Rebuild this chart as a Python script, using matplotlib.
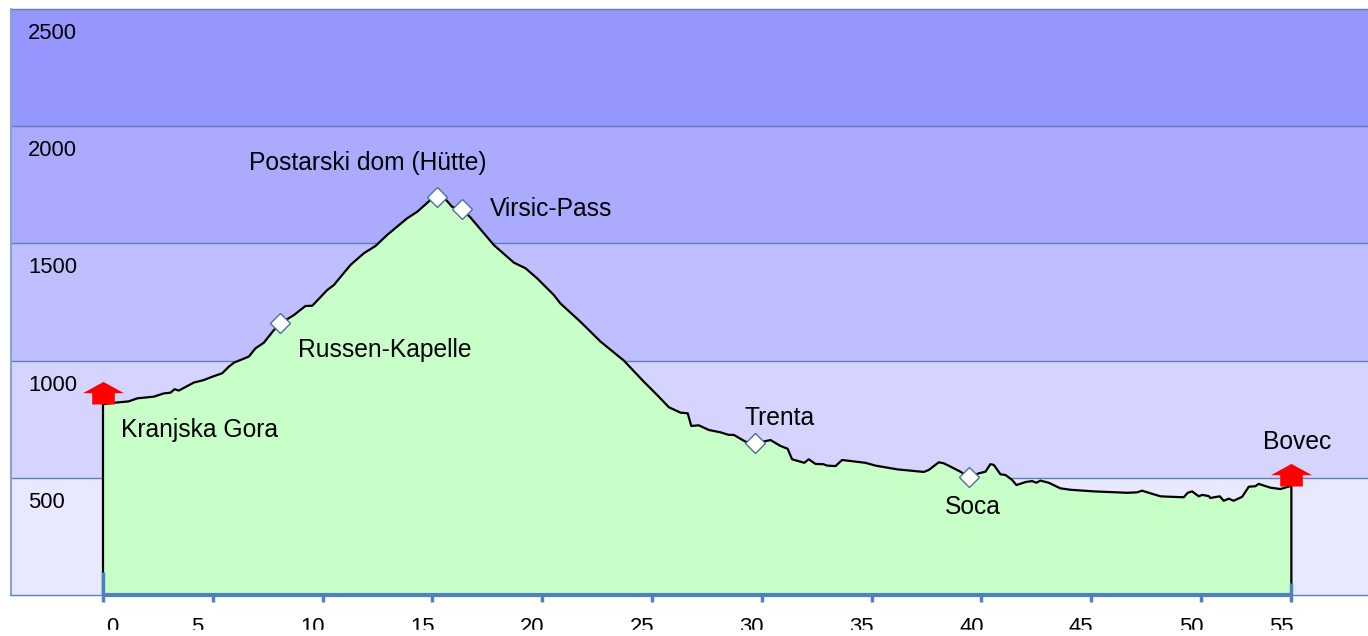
import matplotlib
matplotlib.use("Agg")
import matplotlib.pyplot as plt
from matplotlib.patches import Rectangle
from matplotlib.path import Path
from matplotlib.transforms import ScaledTranslation

plt.rcParams["font.family"] = ["Liberation Sans", "DejaVu Sans"]

# route profile: distance in km, altitude in m
km = [0, 0.49, 1.17, 1.56, 2.31, 2.77, 3.07, 3.26, 3.45, 4.13, 4.59, 4.97, 5.43, 5.73, 5.96,
      6.64, 6.94, 7.32, 7.78, 8.08, 8.69, 9.22, 9.53, 10.21, 10.51, 11.27, 11.88, 12.41, 12.94,
      13.85, 14.31, 14.91, 15.22, 15.60, 15.90, 16.36, 16.73, 17.80, 18.71, 19.24, 19.77, 20.53,
      20.83, 21.74, 22.66, 23.72, 24.63, 25.24, 25.77, 26.30, 26.63, 26.79, 27.13, 27.59, 28.12,
      28.50, 28.73, 29.26, 29.71, 30.40, 30.85, 31.18, 31.38, 31.94, 32.14, 32.45, 32.80, 32.98,
      33.36, 33.66, 34.72, 35.18, 36.17, 37.38, 37.60, 38.06, 38.29, 39.05, 39.43, 39.88, 40.19,
      40.41, 40.57, 40.87, 41.10, 41.40, 41.60, 42.01, 42.31, 42.51, 42.69, 43.07, 43.60, 44.06,
      45.12, 46.18, 46.64, 47.10, 47.32, 47.70, 48.16, 48.61, 49.22, 49.40, 49.60, 49.90, 50.06,
      50.36, 50.43, 50.86, 51.04, 51.27, 51.49, 51.88, 52.18, 52.48, 52.63, 53.16, 53.62, 54.12]
alt = [814, 820, 826, 839, 846, 860, 863, 878, 872, 906, 917, 931, 946, 974, 991,
       1017, 1052, 1076, 1130, 1159, 1194, 1233, 1234, 1301, 1322, 1408, 1458, 1489, 1536,
       1607, 1635, 1685, 1699, 1688, 1656, 1645, 1611, 1493, 1418, 1394, 1351, 1280,
       1244, 1166, 1081, 1000, 910, 853, 801, 778, 775, 721, 724, 704, 694,
       683, 683, 654, 647, 661, 636, 624, 579, 564, 579, 559, 558, 552,
       550, 576, 564, 552, 536, 525, 533, 566, 562, 526, 502, 519, 526,
       558, 555, 515, 512, 491, 469, 482, 486, 479, 488, 479, 455, 449,
       442, 438, 436, 438, 445, 434, 421, 419, 417, 436, 442, 421, 427,
       422, 414, 421, 402, 411, 402, 419, 462, 464, 474, 458, 452, 466]

band_edges = [0, 500, 1000, 1500, 2000, 2500]
band_colors = ["#e8e8ff", "#d4d4ff", "#bfbfff", "#aaaaff", "#9696ff"]

stop_km = [8.08, 15.22, 16.36, 29.71, 39.43]
stop_alt = [1159, 1699, 1645, 647, 502]
end_km = [0, 54.12]
end_alt = [814, 466]

label_names = ["Kranjska Gora", "Russen-Kapelle", "Postarski dom (Hütte)", "Virsic-Pass",
               "Trenta", "Soca", "Bovec"]
label_km = [0.8, 8.87, 6.63, 17.6, 29.22, 38.32, 52.85]
label_alt = [704, 1046, 1843, 1647, 756, 376, 653]

tick_km = [0, 5, 10, 15, 20, 25, 30, 35, 40, 45, 50, 54.12]
tick_labels = ["0", "5", "10", "15", "20", "25", "30", "35", "40", "45", "50", "55"]
tick_shift = [9, -16, -10, -10, -10, -10, -10, -10, -10, -10, -10, -10]
y_ticks = [500, 1000, 1500, 2000, 2500]

AXIS = "#4f81bd"
GRID = "#5f7fb5"

fig = plt.figure(figsize=(13.68, 6.36), dpi=100)
ax = fig.add_axes([11 / 1368, 41 / 636, 1357 / 1368, 586 / 636])
ax.set_xlim(-4.19, 57.61)
ax.set_ylim(0, 2500)

for i, c in enumerate(band_colors):
    ax.axhspan(band_edges[i], band_edges[i + 1], color=c, lw=0, zorder=0)
for y in band_edges[1:]:
    ax.axhline(y, color=GRID, lw=1, zorder=1, clip_on=False)

# profile, closed down to the axis at both ends
line_x = [km[0]] + km + [km[-1]]
line_y = [0] + alt + [0]
ax.fill_between(line_x, line_y, 0, color="#c8ffc8", lw=0, zorder=2)
ax.plot(line_x, line_y, color="black", lw=1.6, zorder=3)

# thick axis over the route and stubs at both ends
ax.plot(end_km, [0, 0], color=AXIS, lw=3, zorder=4, clip_on=False, solid_capstyle="butt")
ax.vlines(end_km[0], 0, 100, color=AXIS, lw=2.5, zorder=4)
ax.vlines(end_km[1], 0, 50, color=AXIS, lw=2.5, zorder=4)

ax.plot(stop_km, stop_alt, ls="none", marker="D", ms=10.5, mfc="white", mec="#4f6f9f", mew=1, zorder=5)

arrow = Path([(-11, 0), (-11, 11), (-20, 11), (0, 22), (20, 11), (11, 11), (11, 0), (-11, 0)], closed=True)
ax.plot(end_km, end_alt, ls="none", marker=arrow, ms=32.5, mfc="#ff0000", mec="none", zorder=5)

for name, x, y in zip(label_names, label_km, label_alt):
    ax.text(x, y, name, fontsize=17.7, color="black", ha="left", va="center", zorder=6)

for s in ["top", "right"]:
    ax.spines[s].set_visible(False)
ax.spines["left"].set_color("#8aa3c8")
ax.spines["left"].set_linewidth(1.5)
ax.spines["bottom"].set_color(GRID)
ax.spines["bottom"].set_linewidth(1)

ax.set_xticks(tick_km)
ax.set_xticklabels(tick_labels, fontsize=15.8)
ax.tick_params(axis="x", length=5, width=2.5, color=AXIS, pad=10.5)
for lab, dx in zip(ax.get_xticklabels(), tick_shift):
    lab.set_transform(lab.get_transform() + ScaledTranslation(dx / 100, 0, fig.dpi_scale_trans))

ax.set_yticks(y_ticks)
ax.set_yticklabels([str(v) for v in y_ticks], fontsize=15.8)
ax.tick_params(axis="y", length=0, pad=0)
for lab in ax.get_yticklabels():
    lab.set_horizontalalignment("left")
    lab.set_transform(lab.get_transform() + ScaledTranslation(17 / 100, -22 / 100, fig.dpi_scale_trans))

# tick labels are cut off at the bottom in the original
fig.add_artist(Rectangle((0, 0), 1, 6 / 636, transform=fig.transFigure, color="white", zorder=10))

fig.savefig("out.png", dpi=100)
